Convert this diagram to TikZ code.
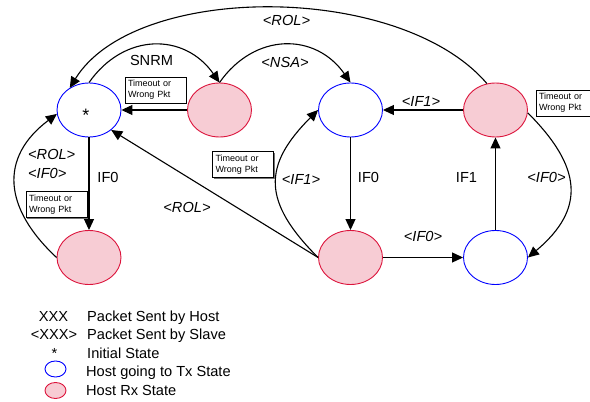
\documentclass[tikz,border=0pt]{standalone}
\usepackage{fontspec}
\setmainfont{Liberation Sans}
\usetikzlibrary{arrows.meta,shapes.geometric,shadows}
\definecolor{rxfill}{RGB}{247,204,212}
\definecolor{rxline}{RGB}{220,20,60}
\begin{document}
\begin{tikzpicture}[x=1pt,y=1pt,
  st/.style={ellipse,minimum width=64pt,minimum height=54pt,inner sep=0pt,line width=0.9pt},
  tx/.style={st,draw=blue},
  rx/.style={st,draw=rxline,fill=rxfill},
  arr/.style={line width=1.1pt,-{Triangle[length=11pt,width=10pt]}},
  lbl/.style={font=\fontsize{14.6}{17}\selectfont,inner sep=0pt},
  ilbl/.style={font=\fontsize{14.6}{17}\selectfont\itshape,inner sep=0pt},
  tbox/.style={draw,line width=0.7pt,fill=white,minimum width=61pt,minimum height=26pt,
    inner xsep=3pt,inner ysep=2pt,text width=55pt,align=left,
    font=\fontsize{9}{11}\selectfont,
    drop shadow={shadow xshift=1.2pt,shadow yshift=-1.2pt,fill=black!55,opacity=1}},
  lgtx/.style={ellipse,minimum width=21pt,minimum height=16pt,inner sep=0pt,line width=0.9pt,draw=blue},
  lgrx/.style={ellipse,minimum width=21pt,minimum height=16pt,inner sep=0pt,line width=0.9pt,draw=rxline,fill=rxfill}
]
\useasboundingbox (0,0) rectangle (590,402);

% states
\node[tx] (A) at (89,292) {};
\node[font=\fontsize{18}{18}\selectfont,anchor=base,inner sep=0pt] (astar) at (86,280.6) {*};
\node[rx] (B) at (219.5,292) {};
\node[tx] (C) at (350.5,292) {};
\node[rx] (D) at (495.5,292) {};
\node[rx] (E) at (89,144.5) {};
\node[rx] (F) at (350.5,144.5) {};
\node[tx] (G) at (495.5,144.5) {};

% connectors
\draw[arr] (B) -- (A);
\draw[arr] (A.north) to[out=55,in=125,looseness=1.2] (B.north);
\draw[arr] (B.north) to[out=55,in=125,looseness=1.2] (C.north);
\draw[arr] (D.108) .. controls (400,420) and (135,420) .. (A.131);
\draw[arr] (D) -- (C);
\draw[arr] (C) -- (F);
\draw[arr] (G) -- (D);
\draw[arr] (F) -- (G);
\draw[arr] (D.-5) to[out=-45,in=40,looseness=1.35] (G.east);
\draw[arr] (F.west) to[out=135,in=225,looseness=1.37] (C.west);
\draw[arr] (F.west) -- (A.-42);
\draw[arr] (A) -- (E);
\draw[arr] (E.west) to[out=137,in=217,looseness=1.29] (A.187);

% labels
\node[lbl] (lsnrm) at (151.5,342) {SNRM};
\node[ilbl] (lrol1) at (286.5,382) {<ROL>};
\node[ilbl] (lnsa) at (285,339.5) {<NSA>};
\node[ilbl] (lif1a) at (421,301) {<IF1>};
\node[ilbl,anchor=west] (lrol2) at (28,247.5) {<ROL>};
\node[ilbl,anchor=west] (lif0a) at (28,228.5) {<IF0>};
\node[lbl] (lif0b) at (108,225) {IF0};
\node[ilbl] (lrol3) at (187,194.3) {<ROL>};
\node[ilbl] (lif1b) at (301,222.5) {<IF1>};
\node[lbl] (lif0c) at (368.5,225) {IF0};
\node[lbl] (lif1c) at (466.5,225) {IF1};
\node[ilbl] (lif0d) at (546.5,225) {<IF0>};
\node[ilbl] (lif0e) at (423,165.3) {<IF0>};

% timeout boxes
\node[tbox] (t1) at (155.5,312) {Timeout or\\Wrong Pkt};
\node[tbox] (t2) at (566.5,299) {Timeout or\\Wrong Pkt};
\node[tbox] (t3) at (243,237.5) {Timeout or\\Wrong Pkt};
\node[tbox] (t4) at (56.5,197.5) {Timeout or\\Wrong Pkt};

% legend
\node[lbl,anchor=base] (k1) at (53.5,80.5) {XXX};
\node[lbl,anchor=base west] (k1t) at (87,80.5) {Packet Sent by Host};
\node[lbl,anchor=base] (k2) at (54,62) {<XXX>};
\node[lbl,anchor=base west] (k2t) at (87,62) {Packet Sent by Slave};
\node[lbl,anchor=base] (k3) at (54.5,43.5) {*};
\node[lbl,anchor=base west] (k3t) at (87,43.5) {Initial State};
\node[lgtx] (k4) at (55.5,33) {};
\node[lbl,anchor=base west] (k4t) at (86,25) {Host going to Tx State};
\node[lgrx] (k5) at (55.5,11.5) {};
\node[lbl,anchor=base west] (k5t) at (86,6.5) {Host Rx State};
\end{tikzpicture}
\end{document}
